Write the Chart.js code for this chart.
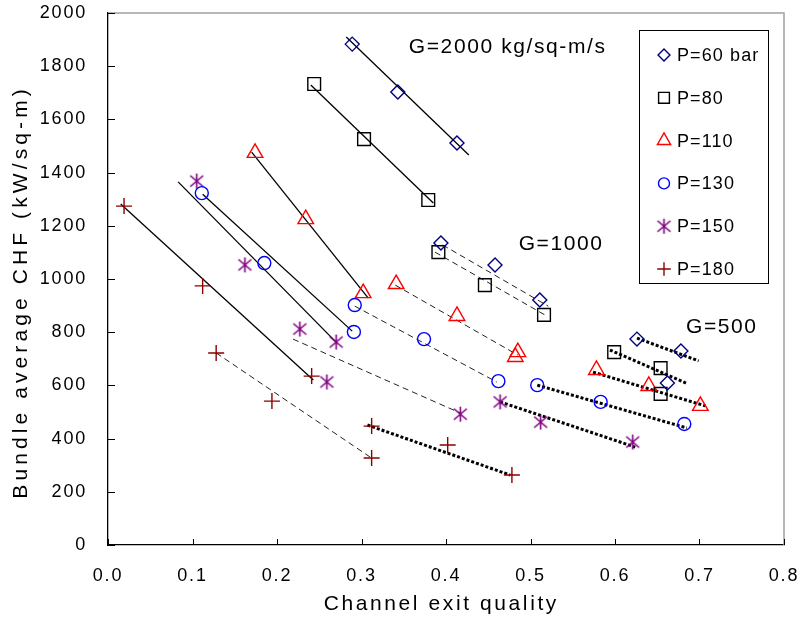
<!DOCTYPE html>
<html>
<head>
<meta charset="utf-8">
<script src="https://cdn.jsdelivr.net/npm/chart.js@4.4.0/dist/chart.umd.min.js"></script>
<style>
  html, body { margin: 0; padding: 0; background: #fff; }
  #wrap { width: 801px; height: 623px; }
</style>
</head>
<body>
<div id="wrap"><canvas id="chf"></canvas></div>
<script>
// legend labels, one per pressure
var pressures = ["P=60 bar", "P=80", "P=110", "P=130", "P=150", "P=180"];

// x ticks / y ticks
var qualityTicks = [0, 0.1, 0.2, 0.3, 0.4, 0.5, 0.6, 0.7, 0.8];
var chfTicks = [0, 200, 400, 600, 800, 1000, 1200, 1400, 1600, 1800, 2000];

// measured points (exit quality, CHF kW/sq-m), one row per pressure
var g2000Quality = [
  [0.289, 0.343, 0.413],
  [0.244, 0.303, 0.379],
  [0.174, 0.234, 0.302],
  [0.111, 0.185, 0.291],
  [0.105, 0.162, 0.270],
  [0.019, 0.112, 0.241]
];
var g2000Chf = [
  [1883, 1703, 1511],
  [1733, 1526, 1297],
  [1474, 1225, 947],
  [1323, 1060, 801],
  [1368, 1053, 763],
  [1274, 974, 635]
];
var g1000Quality = [
  [0.394, 0.458, 0.511],
  [0.391, 0.446, 0.516],
  [0.341, 0.413, 0.485, 0.482],
  [0.292, 0.374, 0.462],
  [0.227, 0.259, 0.417],
  [0.128, 0.194, 0.312]
];
var g1000Chf = [
  [1135, 1053, 921],
  [1101, 977, 865],
  [981, 861, 725, 707],
  [902, 774, 616],
  [812, 613, 492],
  [722, 541, 327]
];
var g500Quality = [
  [0.626, 0.678, 0.662],
  [0.599, 0.654, 0.654],
  [0.578, 0.640, 0.701],
  [0.508, 0.583, 0.682],
  [0.464, 0.512, 0.621],
  [0.312, 0.402, 0.478]
];
var g500Chf = [
  [774, 729, 609],
  [725, 665, 568],
  [658, 598, 523],
  [601, 538, 455],
  [538, 462, 387],
  [447, 376, 263]
];

// trend lines (start, end)
var g2000TrendQuality = [[0.282, 0.427], [0.240, 0.385], [0.170, 0.308], [0.112, 0.289], [0.083, 0.271], [0.015, 0.243]];
var g2000TrendChf = [[1910, 1466], [1729, 1286], [1477, 928], [1319, 804], [1365, 759], [1282, 620]];
var g1000TrendQuality = [[0.396, 0.521], [0.387, 0.517], [0.340, 0.485], [0.292, 0.460], [0.219, 0.417], [0.128, 0.310]];
var g1000TrendChf = [[1128, 898], [1101, 865], [977, 714], [898, 613], [774, 496], [722, 331]];
var g500TrendQuality = [[0.626, 0.699], [0.594, 0.684], [0.574, 0.707], [0.508, 0.685], [0.464, 0.624], [0.307, 0.476]];
var g500TrendChf = [[778, 692], [733, 609], [650, 523], [601, 440], [538, 368], [451, 263]];

// text labels on the plot
var fluxLabels = ["G=2000 kg/sq-m/s", "G=1000", "G=500"];
var fluxLabelQuality = [0.356, 0.486, 0.684];
var fluxLabelChf = [1872, 1131, 819];

var FONT = "'Liberation Sans', Arial, sans-serif";

function makeAsterisk(color) {                      // 6 spoke star like the excel marker
  var c = document.createElement('canvas');
  c.width = 17; c.height = 17;
  var g = c.getContext('2d');
  g.strokeStyle = color;
  g.lineWidth = 1.6;
  g.beginPath();
  g.moveTo(8.5, 1); g.lineTo(8.5, 16);
  g.moveTo(2, 3); g.lineTo(15, 14);
  g.moveTo(15, 3); g.lineTo(2, 14);
  g.stroke();
  return c;
}

var markers = [
  { style: 'rectRot', color: '#000080', radius: 7 },
  { style: 'rect', color: '#000000', radius: 9 },
  { style: 'triangle', color: '#FF0000', radius: 9 },
  { style: 'circle', color: '#0000FF', radius: 6.5 },
  { style: makeAsterisk('#800080'), color: '#800080', radius: 8 },
  { style: 'cross', color: '#8B0000', radius: 8 }
];

var lineStyles = [
  { dash: [], width: 1.3, color: '#000' },          // G=2000 solid
  { dash: [6, 4], width: 1, color: '#222' },        // G=1000 dashed
  { dash: [3, 2], width: 3, color: '#000' }         // G=500 dotted
];

function toPoints(xs, ys) {
  var pts = [];
  for (var i = 0; i < xs.length; i++) {
    pts.push({ x: xs[i], y: ys[i] });
  }
  return pts;
}

var groups = [
  [g2000Quality, g2000Chf, g2000TrendQuality, g2000TrendChf],
  [g1000Quality, g1000Chf, g1000TrendQuality, g1000TrendChf],
  [g500Quality, g500Chf, g500TrendQuality, g500TrendChf]
];

var datasets = [];
for (var g = 0; g < groups.length; g++) {
  for (var p = 0; p < pressures.length; p++) {
    var ls = lineStyles[g];
    datasets.push({
      label: 'trend',
      data: toPoints(groups[g][2][p], groups[g][3][p]),
      showLine: true,
      pointRadius: 0,
      borderColor: ls.color,
      borderWidth: ls.width,
      borderDash: ls.dash,
      order: 2
    });
    var m = markers[p];
    datasets.push({
      label: pressures[p],
      data: toPoints(groups[g][0][p], groups[g][1][p]),
      showLine: false,
      pointStyle: m.style,
      pointRadius: m.radius,
      pointBorderColor: m.color,
      pointBackgroundColor: 'rgba(0,0,0,0)',
      pointBorderWidth: 1.4,
      order: 1
    });
  }
}

function spacedText(ctx, text, x, y, font, spacing, align) {
  ctx.save();
  ctx.font = font;
  ctx.letterSpacing = spacing + 'px';
  ctx.fillStyle = '#000';
  ctx.textBaseline = 'middle';
  var w = ctx.measureText(text).width - spacing;
  var left = align === 'center' ? x - w / 2 : x;
  ctx.textAlign = 'left';
  ctx.fillText(text, left, y);
  ctx.restore();
}

var frame = {
  id: 'frame',
  beforeLayout: function (chart) { chart.ctx.letterSpacing = '1.8px'; },
  beforeDraw: function (chart) { chart.ctx.letterSpacing = '1.8px'; },
  afterDraw: function (chart) {
    var ctx = chart.ctx, a = chart.chartArea;
    var xs = chart.scales.x, ys = chart.scales.y;
    ctx.save();
    ctx.letterSpacing = '0px';
    ctx.setLineDash([]);

    // grey top and right frame
    ctx.strokeStyle = '#a0a0a0';
    ctx.lineWidth = 1.5;
    ctx.beginPath();
    ctx.moveTo(a.left, a.top);
    ctx.lineTo(a.right, a.top);
    ctx.lineTo(a.right, a.bottom);
    ctx.stroke();

    // tick marks pointing inward
    ctx.strokeStyle = '#000';
    ctx.lineWidth = 1;
    ctx.beginPath();
    xs.ticks.forEach(function (t) {
      var px = Math.round(xs.getPixelForValue(t.value)) + 0.5;
      ctx.moveTo(px, a.bottom);
      ctx.lineTo(px, a.bottom - 6);
    });
    ys.ticks.forEach(function (t) {
      var py = Math.round(ys.getPixelForValue(t.value)) + 0.5;
      ctx.moveTo(a.left, py);
      ctx.lineTo(a.left + 7, py);
    });
    ctx.stroke();

    // flux labels
    for (var i = 0; i < fluxLabels.length; i++) {
      spacedText(ctx, fluxLabels[i], xs.getPixelForValue(fluxLabelQuality[i]),
        ys.getPixelForValue(fluxLabelChf[i]), '21px ' + FONT, 1.6, 'left');
    }

    // axis titles
    spacedText(ctx, 'Channel exit quality', (a.left + a.right) / 2 - 6, 604, '21px ' + FONT, 2.6, 'center');
    ctx.save();
    ctx.translate(21, (a.top + a.bottom) / 2 + 15);
    ctx.rotate(-Math.PI / 2);
    spacedText(ctx, 'Bundle average CHF (kW/sq-m)', 0, 0, '21px ' + FONT, 4.1, 'center');
    ctx.restore();

    // legend box
    var bx = a.right - 145, by = a.top + 17, bw = 129, bh = 253;
    ctx.strokeStyle = '#000';
    ctx.lineWidth = 1;
    ctx.strokeRect(bx + 0.5, by + 0.5, bw, bh);
    for (var k = 0; k < pressures.length; k++) {
      var ry = by + 25 + k * 42.8;
      var mk = markers[k];
      ctx.strokeStyle = mk.color;
      ctx.fillStyle = 'rgba(0,0,0,0)';
      ctx.lineWidth = 1.4;
      Chart.helpers.drawPoint(ctx, {
        pointStyle: mk.style, radius: mk.radius * 0.85, rotation: 0, borderWidth: 1.4
      }, bx + 25, ry);
      spacedText(ctx, pressures[k], bx + 38, ry + 1, '18px ' + FONT, 1.1, 'left');
    }
    ctx.restore();
  }
};

Chart.defaults.font.family = FONT;
Chart.defaults.font.size = 18;
Chart.defaults.color = '#000';

function noPadding(scale) {                        // keep chart area where the layout padding says
  scale.paddingTop = 0;
  scale.paddingBottom = 0;
  scale.paddingLeft = 0;
  scale.paddingRight = 0;
}

new Chart(document.getElementById('chf'), {
  type: 'scatter',
  data: { datasets: datasets },
  options: {
    responsive: true,
    maintainAspectRatio: false,
    animation: false,
    events: [],
    layout: { padding: { top: 13, right: 17, left: 0, bottom: 0 } },
    plugins: {
      legend: { display: false },
      tooltip: { enabled: false }
    },
    scales: {
      x: {
        type: 'linear',
        min: 0,
        max: 0.8,
        afterBuildTicks: function (scale) {
          scale.ticks = qualityTicks.map(function (v) { return { value: v }; });
        },
        afterFit: function (scale) { scale.height = 78; noPadding(scale); },
        grid: { display: true, drawOnChartArea: false, drawTicks: false },
        border: { color: '#000', width: 1.3 },
        ticks: {
          padding: 20,
          maxRotation: 0,
          callback: function (v) { return v.toFixed(1); }
        }
      },
      y: {
        type: 'linear',
        min: 0,
        max: 2000,
        afterBuildTicks: function (scale) {
          scale.ticks = chfTicks.map(function (v) { return { value: v }; });
        },
        afterFit: function (scale) { scale.width = 108; noPadding(scale); },
        grid: { display: true, drawOnChartArea: false, drawTicks: false },
        border: { color: '#000', width: 1.3 },
        ticks: {
          padding: 21,
          callback: function (v) { return String(v); }
        }
      }
    }
  },
  plugins: [frame]
});
</script>
</body>
</html>
